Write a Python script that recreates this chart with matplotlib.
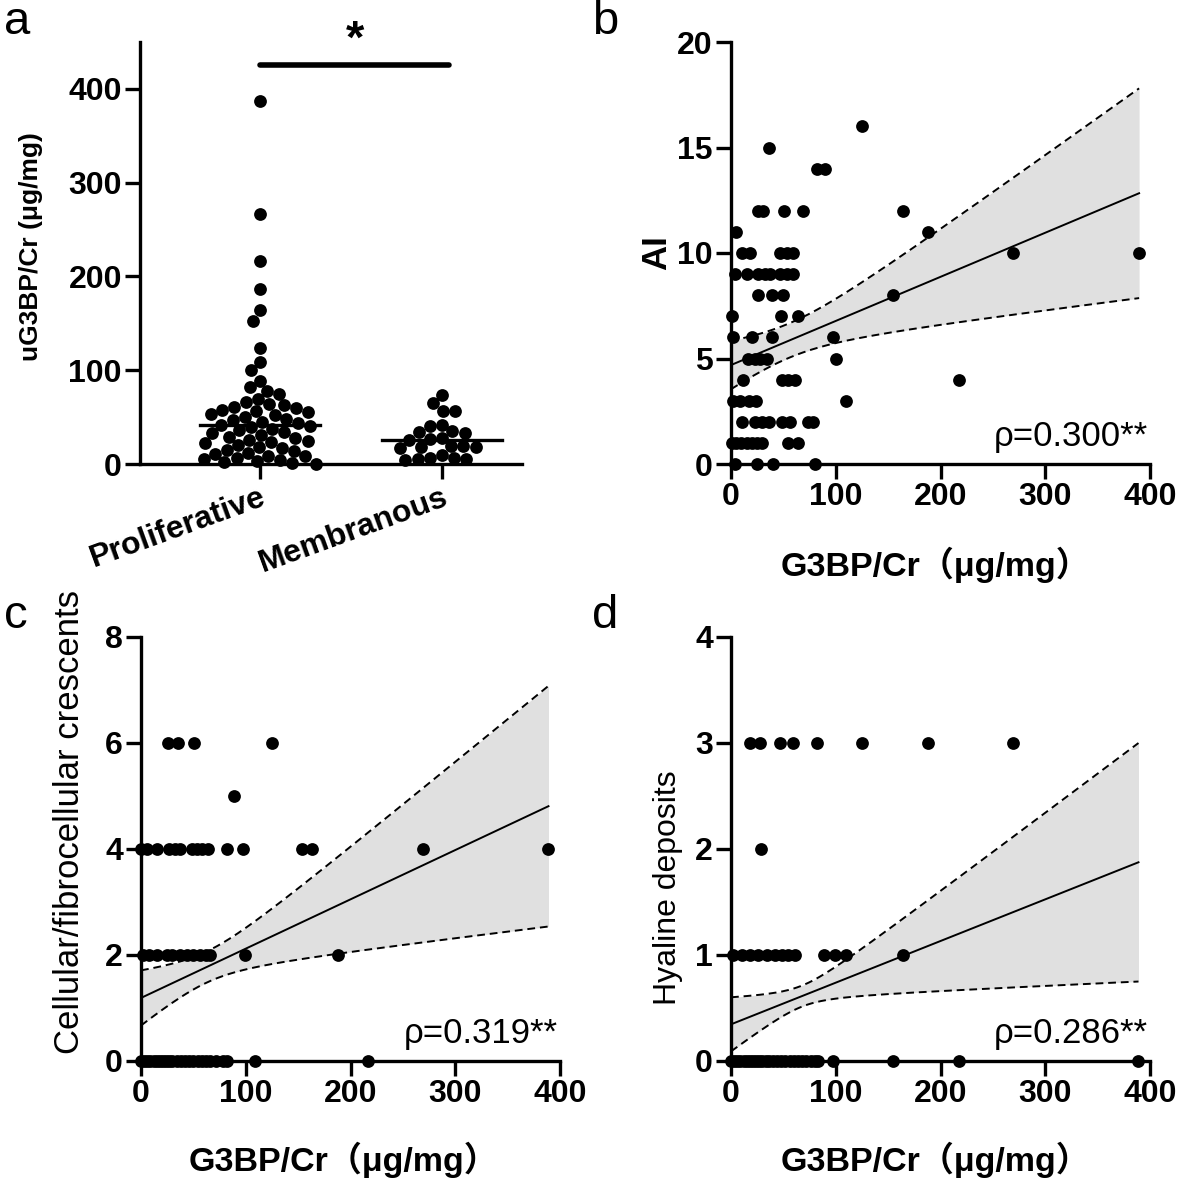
import numpy as np
import matplotlib
matplotlib.use("Agg")
import matplotlib.pyplot as plt

plt.rcParams['font.family'] = ['Liberation Sans', 'Noto Sans CJK SC', 'DejaVu Sans']

# ---- panel a: urinary G3BP/Cr by group ----
groups = ["Proliferative", "Membranous"]
prolif = [387, 267, 216, 187, 164, 153, 124, 109, 100, 89, 82, 78, 75,
          69, 66, 64, 63, 61, 60, 58, 56, 55, 53, 52, 50, 48, 47, 45, 44, 42, 41,
          39, 37, 36, 34, 33, 31, 29, 28, 26, 25, 23, 22, 20, 18, 17, 15, 14, 12,
          11, 9, 8, 6, 5, 4, 3, 2, 1, 0.5]
membr = [74, 65, 57, 56, 42, 41, 35, 34, 33, 28, 27, 26, 19, 18, 18, 17, 19, 10,
         6, 5, 6, 5, 4]
sig_y = 426  # height of significance bar

# ---- panel b: AI vs G3BP/Cr ----
b_x = [124.7, 36.3, 81.7, 89.7,
       26, 31, 50.6, 68.5, 164,
       4.8, 188,
       10.2, 18, 46.8, 53, 59.4, 269.4, 389.6,
       3.8, 15, 26, 32.4, 37, 46.8, 53, 59.4,
       26, 38.8, 50, 154.3,
       0.6, 47.7, 64.2,
       1.6, 19.7, 38.8, 97.6,
       16.5, 23, 28, 34, 100.2,
       11.8, 48.4, 54.7, 61, 217.9,
       2, 9, 17, 24, 109.7,
       10.2, 22.9, 29.3, 36.5, 48.4, 56.3, 73.8, 78.5,
       0.5, 5, 10, 15, 20, 25, 30, 54.7, 64.2,
       3.8, 24.5, 40.4, 80.2]
b_y = [16, 15, 14, 14,
       12, 12, 12, 12, 12,
       11, 11,
       10, 10, 10, 10, 10, 10, 10,
       9, 9, 9, 9, 9, 9, 9, 9,
       8, 8, 8, 8,
       7, 7, 7,
       6, 6, 6, 6,
       5, 5, 5, 5, 5,
       4, 4, 4, 4, 4,
       3, 3, 3, 3, 3,
       2, 2, 2, 2, 2, 2, 2, 2,
       1, 1, 1, 1, 1, 1, 1, 1, 1,
       0, 0, 0, 0]

# ---- panel c: cellular/fibrocellular crescents ----
c_x = [26, 35.6, 50.6, 124.7,
       89,
       0, 5.4, 15, 27, 32.4, 37.2, 48.4, 53.1, 57.9, 64.2, 81.8, 97.6, 153.3, 162.9, 269, 389,
       2.2, 8, 15, 24.5, 30, 37.2, 43.5, 49.8, 56.2, 62.5, 65.8, 99.2, 188.3,
       0, 3, 6, 9, 12, 15, 18, 21, 24, 27, 30, 34, 38, 42, 46, 50, 54, 58, 62, 66,
       72, 78, 82, 108.8, 216.6]
c_y = [6, 6, 6, 6,
       5,
       4, 4, 4, 4, 4, 4, 4, 4, 4, 4, 4, 4, 4, 4, 4, 4,
       2, 2, 2, 2, 2, 2, 2, 2, 2, 2, 2, 2, 2,
       0, 0, 0, 0, 0, 0, 0, 0, 0, 0, 0, 0, 0, 0, 0, 0, 0, 0, 0, 0,
       0, 0, 0, 0, 0]

# ---- panel d: hyaline deposits ----
d_x = [18.1, 27.7, 46.8, 58.9, 81.8, 124.7, 188.3, 269,
       28.6,
       2.2, 10.2, 18.1, 26, 34, 42, 48.4, 54.7, 61, 89, 99.2, 109.7, 164.4,
       0, 3, 6, 9, 12, 15, 18, 21, 24, 27, 30, 33, 36, 40, 44, 48, 52, 56, 60, 64,
       68, 72, 76, 80, 83, 97.6, 154.3, 217.8, 389]
d_y = [3, 3, 3, 3, 3, 3, 3, 3,
       2,
       1, 1, 1, 1, 1, 1, 1, 1, 1, 1, 1, 1, 1,
       0, 0, 0, 0, 0, 0, 0, 0, 0, 0, 0, 0, 0, 0, 0, 0, 0, 0, 0, 0,
       0, 0, 0, 0, 0, 0, 0, 0, 0]

# linear fits as printed: intercept, slope, 95% CI half-width at x=0 and at max x
fit_b = [4.69, 0.0209, 1.145, 4.97]
fit_c = [1.19, 0.0093, 0.52, 2.27]
fit_d = [0.346, 0.00393, 0.255, 1.125]

rho_text = ["ρ=0.300**", "ρ=0.319**", "ρ=0.286**"]
xlab = "G3BP/Cr（μg/mg）"

W, H = 1180, 1184
TICK_FS = 23
DOT = 9.2  # marker diameter in points


def px_axes(fig, left, top, right, bottom):
    return fig.add_axes([left / W, 1 - bottom / H, (right - left) / W, (bottom - top) / H])


def ftext(fig, x, y, s, **kw):
    return fig.text(x / W, 1 - y / H, s, ha="center", va="center", **kw)


def style(ax):
    for s in ("top", "right"):
        ax.spines[s].set_visible(False)
    for s in ("left", "bottom"):
        ax.spines[s].set_linewidth(2.4)
    ax.tick_params(width=2.4, length=11, labelsize=TICK_FS, direction="out", pad=2)
    for lab in ax.get_xticklabels() + ax.get_yticklabels():
        lab.set_fontweight("bold")


def swarm(vals, ax, center, diam_px):
    # simple beeswarm in display pixels
    order = np.argsort(vals)[::-1]
    xpx = ax.transData.transform((1, 0))[0] - ax.transData.transform((0, 0))[0]
    ypx = ax.transData.transform((0, 1))[1] - ax.transData.transform((0, 0))[1]
    placed = []
    offs = np.zeros(len(vals))
    for i in order:
        y = vals[i] * ypx
        cands = [0.0]
        for (px, py) in placed:
            dy = abs(py - y)
            if dy < diam_px:
                dx = np.sqrt(diam_px ** 2 - dy ** 2)
                cands += [px - dx, px + dx]
        cands.sort(key=abs)
        for c in cands:
            if all((c - px) ** 2 + (y - py) ** 2 >= diam_px ** 2 - 1e-6 for px, py in placed):
                break
        placed.append((c, y))
        offs[i] = c / xpx
    return center + offs


def fit_band(fit, x):
    icpt, slope, hw0, hwe = fit
    x = np.asarray(x, float)
    xm, xe = x.mean(), x.max()
    b2 = (hwe ** 2 - hw0 ** 2) / ((xe - xm) ** 2 - xm ** 2)
    a2 = max(hw0 ** 2 - b2 * xm ** 2, 1e-6)
    xs = np.linspace(0, xe, 200)
    yh = icpt + slope * xs
    hw = np.sqrt(a2 + b2 * (xs - xm) ** 2)
    return xs, yh, yh - hw, yh + hw


def scatter_panel(ax, x, y, fit, ylim, yticks, rho):
    xs, yh, lo, hi = fit_band(fit, x)
    ax.fill_between(xs, lo, hi, color="#e0e0e0", lw=0, zorder=1)
    ax.plot(xs, yh, color="black", lw=1.4, zorder=2)
    for yy in (lo, hi):
        ax.plot(xs, yy, color="black", lw=1.4, ls=(0, (4, 2.5)), zorder=2)
    ax.plot(x, y, "o", color="black", ms=DOT, mec="none", clip_on=False, zorder=3)
    ax.set_xlim(0, 400)
    ax.set_ylim(*ylim)
    ax.set_xticks([0, 100, 200, 300, 400])
    ax.set_yticks(yticks)
    style(ax)
    ax.text(0.995, 0.042, rho, transform=ax.transAxes, ha="right", va="baseline", fontsize=25)


fig = plt.figure(figsize=(W / 100, H / 100), dpi=100)

# panel a
ax = px_axes(fig, 140, 42, 522, 464)
ax.set_xlim(-0.66, 1.44)
ax.set_ylim(0, 450)
fig.canvas.draw()
diam = DOT / 72 * 100 * 0.97
for k, vals in enumerate([prolif, membr]):
    xv = swarm(np.asarray(vals, float), ax, k, diam)
    ax.plot(xv, vals, "o", color="black", ms=DOT, mec="none", clip_on=False, zorder=3)
    med = np.median(vals)
    ax.plot([k - 0.33, k + 0.33], [med, med], color="black", lw=2.4, zorder=4)
ax.plot([0, 1.04], [sig_y, sig_y], color="black", lw=4, solid_capstyle="round", clip_on=False)
ax.text(0.52, sig_y + 2, "*", ha="center", va="bottom", fontsize=34, fontweight="bold")
ax.set_xticks([0, 1])
ax.set_xticklabels(groups)
ax.set_yticks([0, 100, 200, 300, 400])
style(ax)
for lab in ax.get_xticklabels():
    lab.set_rotation(20)
    lab.set_ha("right")
    lab.set_rotation_mode("anchor")
ftext(fig, 31, 247, "uG3BP/Cr (μg/mg)", rotation=90, fontsize=19, fontweight="bold")

# panel b
ax = px_axes(fig, 731, 42, 1150, 464)
scatter_panel(ax, b_x, b_y, fit_b, (0, 20), [0, 5, 10, 15, 20], rho_text[0])
ftext(fig, 657, 253, "AI", rotation=90, fontsize=25, fontweight="bold")
ftext(fig, 935, 565, xlab, fontsize=24.5, fontweight="bold")

# panel c
ax = px_axes(fig, 141, 637, 560, 1061)
scatter_panel(ax, c_x, c_y, fit_c, (0, 8), [0, 2, 4, 6, 8], rho_text[1])
ftext(fig, 70, 822, "Cellular/fibrocellular crescents", rotation=90, fontsize=25)
ftext(fig, 343, 1160, xlab, fontsize=24.5, fontweight="bold")

# panel d
ax = px_axes(fig, 731, 637, 1150, 1061)
scatter_panel(ax, d_x, d_y, fit_d, (0, 4), [0, 1, 2, 3, 4], rho_text[2])
ftext(fig, 668, 888, "Hyaline deposits", rotation=90, fontsize=23)
ftext(fig, 935, 1160, xlab, fontsize=24.5, fontweight="bold")

for lbl, (x, y) in zip("abcd", [(4, 0), (592, 0), (4, 594), (592, 594)]):
    fig.text(x / W, 1 - y / H, lbl, fontsize=34, ha="left", va="top")

fig.savefig("out.png", dpi=100)
